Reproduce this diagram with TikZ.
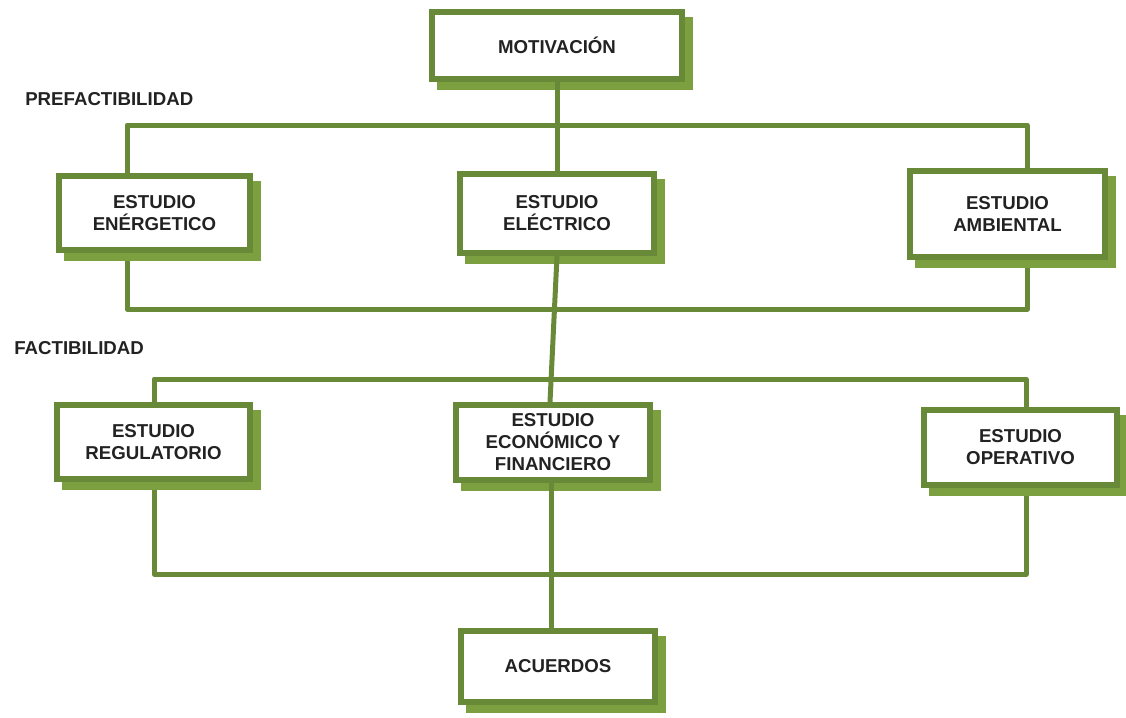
\documentclass[tikz,border=0pt]{standalone}
\usepackage{fontspec}
\setmainfont{Liberation Sans}
\usetikzlibrary{shadows}
\definecolor{boxgreen}{RGB}{104,137,56}
\definecolor{shadegreen}{RGB}{124,160,64}
\definecolor{textdark}{RGB}{34,34,34}
\tikzset{
  stagebox/.style={draw=boxgreen, line width=4.5pt, fill=white, rectangle,
    inner sep=0pt, align=center, text=textdark,
    font=\fontsize{14}{16.5}\selectfont\bfseries,
    general shadow={fill=shadegreen, draw=shadegreen, line width=4.5pt,
      shadow xshift=6pt, shadow yshift=-6pt}},
  link/.style={draw=boxgreen, line width=3.75pt, line join=round, line cap=round},
  phase/.style={anchor=west, inner sep=0pt, text=textdark,
    font=\fontsize{14}{16}\selectfont\bfseries}
}
\begin{document}
\begin{tikzpicture}[x=0.75pt, y=-0.75pt]
\useasboundingbox (0,0) rectangle (1126,717);

% frame corners of the two study groups
\coordinate (p1) at (127,125);
\coordinate (p2) at (1027,309);
\coordinate (f1) at (154,379);
\coordinate (f2) at (1026,574);

\draw[link] (p1) rectangle (p2);
\draw[link] (f1) rectangle (f2);

% stage boxes
\node[stagebox, minimum width=187.5pt, minimum height=50.25pt] (mot) at (557,45.5) {MOTIVACIÓN};
\node[stagebox, minimum width=143.25pt, minimum height=55.5pt] (ene) at (154.5,213) {ESTUDIO\\ENÉRGETICO};
\node[stagebox, minimum width=145.5pt, minimum height=59.25pt] (ele) at (557,213.5) {ESTUDIO\\ELÉCTRICO};
\node[stagebox, minimum width=146.25pt, minimum height=64.5pt] (amb) at (1007.5,214) {ESTUDIO\\AMBIENTAL};
\node[stagebox, minimum width=144.75pt, minimum height=55.5pt] (reg) at (153.5,442) {ESTUDIO\\REGULATORIO};
\node[stagebox, minimum width=145.5pt, minimum height=56.25pt] (eco) at (553,442.5) {ESTUDIO\\ECONÓMICO Y\\FINANCIERO};
\node[stagebox, minimum width=144.75pt, minimum height=56.25pt] (ope) at (1020.5,447.5) {ESTUDIO\\OPERATIVO};
\node[stagebox, minimum width=145.5pt, minimum height=53.25pt] (acu) at (558,666.5) {ACUERDOS};

% vertical links between the stages
\draw[link] (mot.south) -- (ele.north);
\draw[link] (ele.south) -- ([xshift=-2.25pt]eco.north);
\draw[link] ([xshift=-1.5pt]eco.south) -- ([xshift=-1.5pt]eco.south |- acu.north);

% phase labels
\node[phase] (pre) at (25,99) {PREFACTIBILIDAD};
\node[phase] (fac) at (14,348) {FACTIBILIDAD};
\end{tikzpicture}
\end{document}
